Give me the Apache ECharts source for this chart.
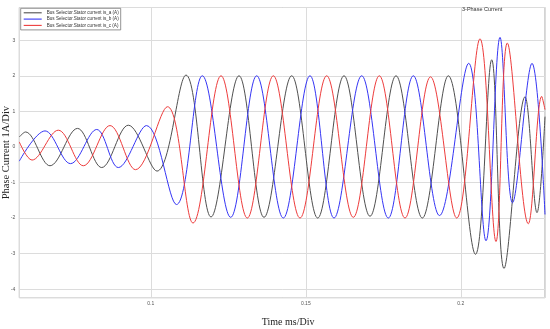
<!DOCTYPE html>
<html>
<head>
<meta charset="utf-8">
<script src="https://cdn.jsdelivr.net/npm/echarts@6/dist/echarts.min.js"></script>
<style>
html,body{margin:0;padding:0;background:#fff;}
#chart{width:550px;height:329px;}
</style>
</head>
<body>
<div id="chart"></div>
<script>
// Series names
const seriesNames = [
  'Bus Selector.Stator current is_a (A)',
  'Bus Selector.Stator current is_b (A)',
  'Bus Selector.Stator current is_c (A)'
];
// Axis tick labels shown
const xTickLabels = ['0.1', '0.15', '0.2'];
const yTickLabels = ['-4', '-3', '-2', '-1', '0', '1', '2', '3'];

// Phase a (black): times of extrema / ends and values (A)
const isA_t = [0.05758, 0.05958, 0.06748, 0.07635, 0.08416, 0.09274, 0.10200, 0.11135, 0.11942, 0.12845, 0.13652, 0.14545, 0.15384, 0.16232, 0.17071, 0.17910, 0.18758, 0.19597, 0.20474, 0.20997, 0.21394, 0.22071, 0.22458, 0.22716];
const isA_v = [0.28, 0.42, -0.53, 0.52, -0.58, 0.61, -0.68, 2.02, -1.97, 2.00, -1.98, 2.00, -2.00, 2.00, -1.95, 2.00, -2.00, 2.00, -3.02, 2.45, -3.42, 1.41, -1.85, 0.85];

// Phase b (blue)
const isB_t = [0.05758, 0.06587, 0.07410, 0.08255, 0.08952, 0.09861, 0.10829, 0.11661, 0.12577, 0.13416, 0.14274, 0.15135, 0.15910, 0.16803, 0.17661, 0.18468, 0.19313, 0.20255, 0.20813, 0.21265, 0.21668, 0.22297, 0.22716];
const isB_v = [-0.40, 0.45, -0.47, 0.49, -0.58, 0.60, -1.62, 2.00, -1.98, 2.00, -2.00, 2.00, -2.00, 2.00, -2.00, 2.00, -1.93, 2.35, -2.64, 3.08, -1.57, 2.35, -1.90];

// Phase c (red)
const isC_t = [0.05758, 0.06168, 0.07016, 0.07823, 0.08684, 0.09506, 0.10539, 0.11361, 0.12265, 0.13113, 0.13952, 0.14813, 0.15674, 0.16532, 0.17371, 0.18200, 0.19023, 0.19868, 0.20619, 0.21135, 0.21500, 0.22177, 0.22610, 0.22716];
const isC_v = [0.14, -0.37, 0.47, -0.53, 0.60, -0.64, 1.13, -2.14, 2.00, -2.00, 2.00, -2.00, 2.00, -1.98, 2.00, -2.00, 1.97, -2.00, 3.04, -2.66, 2.92, -2.16, 1.42, 1.05];

const xMin = 0.05758, xMax = 0.22716;
const yMin = -4.24, yMax = 3.92;

function pairs(t, v) { return t.map((x, i) => [x, v[i]]); }

const chart = echarts.init(document.getElementById('chart'), null, {renderer: 'canvas'});
const colors = ['#505050', '#3535f5', '#ee3c3c'];
const lineSeries = [pairs(isA_t, isA_v), pairs(isB_t, isB_v), pairs(isC_t, isC_v)].map((d, i) => ({
  name: seriesNames[i],
  type: 'line',
  data: d,
  symbol: 'none',
  showSymbol: false,
  smooth: 0.36,
  lineStyle: {width: 1, color: colors[i]},
  itemStyle: {color: colors[i]},
  animation: false
}));

chart.setOption({
  animation: false,
  backgroundColor: '#fff',
  title: {
    text: '3-Phase Current',
    left: 457, top: 1,
    textStyle: {fontSize: 5.5, fontWeight: 'normal', color: '#333', fontFamily: 'Liberation Sans'}
  },
  legend: {
    orient: 'vertical',
    left: 20.7, top: 8.3,
    padding: [2, 2, 2, 3],
    icon: 'rect',
    itemWidth: 18, itemHeight: 1.1, itemGap: 1.3,
    backgroundColor: '#fff',
    borderColor: '#777', borderWidth: 0.8,
    textStyle: {fontSize: 4.6, lineHeight: 5, color: '#333', fontFamily: 'Liberation Sans'},
    data: seriesNames
  },
  grid: {
    left: 19.3, right: 5, top: 7.5, bottom: 31.3,
    show: true, borderColor: '#a8a8a8', borderWidth: 1,
    containLabel: false, outerBoundsMode: 'none'
  },
  xAxis: {
    type: 'value', min: xMin, max: xMax, splitNumber: 3,
    name: 'Time ms/Div', nameLocation: 'middle', nameGap: 20, nameMoveOverlap: false,
    nameTextStyle: {fontFamily: 'Liberation Serif', fontSize: 10, color: '#222', padding: [0, 0, 0, 12]},
    axisLine: {show: false}, axisTick: {show: false},
    axisLabel: {
      fontSize: 5, color: '#555', margin: 3, fontFamily: 'Liberation Sans',
      showMinLabel: false, showMaxLabel: false,
      formatter: v => { const s = String(+v.toFixed(4)); return xTickLabels.includes(s) ? s : ''; }
    },
    splitLine: {show: true, lineStyle: {color: '#dcdcdc', width: 1}}
  },
  yAxis: {
    type: 'value', min: yMin, max: yMax, splitNumber: 8,
    name: 'Phase Current 1A/Div', nameLocation: 'middle', nameGap: 8, nameMoveOverlap: false,
    nameTextStyle: {fontFamily: 'Liberation Serif', fontSize: 10.5, color: '#222'},
    axisLine: {show: false}, axisTick: {show: false},
    axisLabel: {
      fontSize: 5, color: '#555', margin: 4, fontFamily: 'Liberation Sans',
      showMinLabel: false, showMaxLabel: false,
      formatter: v => { const s = String(Math.round(v)); return (Math.abs(v - Math.round(v)) < 1e-6 && yTickLabels.includes(s)) ? s : ''; }
    },
    splitLine: {show: true, lineStyle: {color: '#dcdcdc', width: 1}}
  },
  series: lineSeries
});
</script>
</body>
</html>
